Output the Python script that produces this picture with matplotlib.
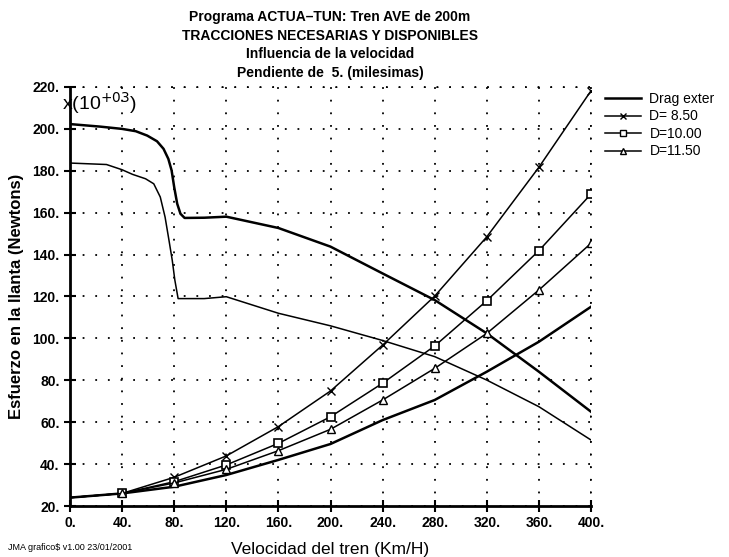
import matplotlib
matplotlib.use("Agg")
import matplotlib.pyplot as plt
from matplotlib.lines import Line2D

plt.rcParams['font.family'] = ['Liberation Sans', 'DejaVu Sans']

# Rising curves (resistance) sampled every 40 km/h
speed = [0, 40, 80, 120, 160, 200, 240, 280, 320, 360, 400]
drag_exter = [24.0, 26.0, 29.2, 34.8, 42.0, 49.6, 61.0, 70.6, 84.1, 98.4, 115.1]
d_850 = [24.0, 26.0, 33.7, 43.9, 57.9, 74.9, 96.8, 120.2, 148.5, 181.7, 218.2]
d_1000 = [24.0, 26.0, 31.6, 39.6, 49.9, 62.6, 78.6, 96.4, 118.0, 141.9, 168.9]
d_1150 = [24.0, 26.0, 31.0, 37.5, 46.4, 56.6, 70.6, 85.7, 102.4, 123.1, 145.4]

# Available traction curves
upper_x = [0, 23, 40, 50.5, 59.3, 66.8, 71.8, 75.5, 78, 80, 82.3, 84.8, 88, 103, 120,
           160, 200, 240, 280, 320, 360, 400]
upper_y = [202.3, 201.1, 200.0, 198.9, 196.8, 194.1, 190.5, 185.7, 180.2, 172.2, 164.3,
           159.5, 157.5, 157.6, 158.1, 152.7, 143.8, 131.0, 118.3, 102.4, 84.1, 65.0]
lower_x = [0, 28, 40, 48, 58, 64.3, 69.3, 73, 76, 78.5, 80.5, 83, 103, 120,
           160, 200, 240, 280, 320, 360, 400]
lower_y = [183.7, 183.0, 180.5, 178.3, 176.2, 173.8, 167.5, 157.9, 146.8, 137.3, 127.8,
           119.0, 119.0, 119.9, 112.0, 106.0, 99.0, 91.3, 80.1, 67.4, 51.5]

legend_labels = ['Drag exter', 'D= 8.50', 'D=10.00', 'D=11.50']
x_ticks = [0, 40, 80, 120, 160, 200, 240, 280, 320, 360, 400]
y_ticks = [20, 40, 60, 80, 100, 120, 140, 160, 180, 200, 220]

title_lines = ['Programa ACTUA\u2013TUN: Tren AVE de 200m',
               'TRACCIONES NECESARIAS Y DISPONIBLES',
               'Influencia de la velocidad',
               'Pendiente de  5. (milesimas)']

fig = plt.figure(figsize=(7.29, 5.57), dpi=100)
ax = fig.add_axes([70/729, 1-506/557, (591-70)/729, (506-87)/557])

ax.plot(upper_x, upper_y, color='black', lw=1.8)
ax.plot(lower_x, lower_y, color='black', lw=1.1)
ax.plot(speed, drag_exter, color='black', lw=1.8)
ax.plot(speed, d_850, color='black', lw=1.1, marker='x', ms=6, mew=1.0,
        markevery=list(range(1, len(speed))))
ax.plot(speed, d_1000, color='black', lw=1.1, marker='s', ms=6, mew=1.2, mfc='white',
        markevery=list(range(1, len(speed))))
ax.plot(speed, d_1150, color='black', lw=1.1, marker='^', ms=6, mew=1.0, mfc='white',
        markevery=list(range(1, len(speed))))

ax.set_xlim(0, 400)
ax.set_ylim(20, 220)
ax.set_xticks(x_ticks)
ax.set_yticks(y_ticks)
ax.set_xticklabels([f'{v}.' for v in x_ticks], fontsize=10, fontweight='bold')
ax.set_yticklabels([f'{v}.' for v in y_ticks], fontsize=10, fontweight='bold')
ax.tick_params(direction='inout', length=9, width=1.5, pad=3)

for s in ['top', 'right']:
    ax.spines[s].set_visible(False)
for s in ['left', 'bottom']:
    ax.spines[s].set_linewidth(2.0)

ax.grid(True, color='black', linestyle=(0, (1, 6)), linewidth=1.3)
ax.axhline(220, color='black', linestyle=(0, (1, 6)), linewidth=1.3, clip_on=False)
ax.axvline(400, color='black', linestyle=(0, (1, 6)), linewidth=1.3, clip_on=False)

ax.text(-6, 212.5, r'x(10$^{+03}$)', fontsize=14, ha='left', va='center', clip_on=False)

ax.set_ylabel('Esfuerzo en la llanta (Newtons)', fontsize=12, fontweight='bold', labelpad=6)
ax.set_xlabel('Velocidad del tren (Km/H)', fontsize=12.5, labelpad=8)

for i, line in enumerate(title_lines):
    fig.text(330/729, 1-(17+18.5*i)/557, line, ha='center', va='center',
             fontsize=10, fontweight='bold')

fig.text(8/729, 1-547/557, 'JMA grafico$ v1.00 23/01/2001', fontsize=6.5, ha='left', va='center')

handles = [Line2D([], [], color='black', lw=1.8),
           Line2D([], [], color='black', lw=1.1, marker='x', ms=4),
           Line2D([], [], color='black', lw=1.1, marker='s', ms=4, mfc='white'),
           Line2D([], [], color='black', lw=1.1, marker='^', ms=4, mfc='white')]
fig.legend(handles, legend_labels, loc='upper left', bbox_to_anchor=(605/729, 1-92/557),
           frameon=False, fontsize=10, handlelength=2.6, handletextpad=0.6,
           labelspacing=0.25, borderaxespad=0, borderpad=0)

fig.savefig('out.png', dpi=100)
